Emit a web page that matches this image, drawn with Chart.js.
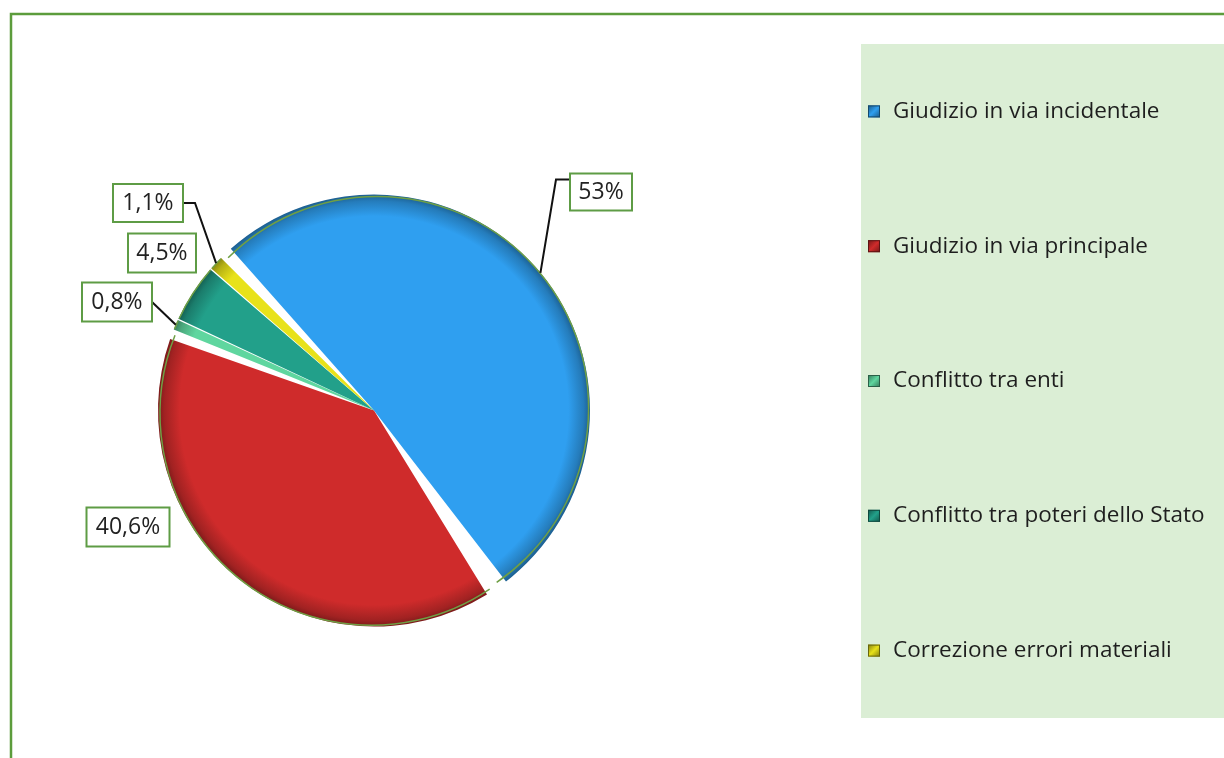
<!DOCTYPE html>
<html>
<head>
<meta charset="utf-8">
<script src="https://cdn.jsdelivr.net/npm/chart.js@4.4.1/dist/chart.umd.min.js"></script>
<style>
  html, body { margin: 0; padding: 0; background: #ffffff; }
  #wrap { position: relative; width: 1224px; height: 758px; }
</style>
</head>
<body>
<div id="wrap"><canvas id="c" width="1224" height="758"></canvas></div>
<script>
// ---- data ----
const categories = [
  'Giudizio in via incidentale',
  'Giudizio in via principale',
  'Conflitto tra enti',
  'Conflitto tra poteri dello Stato',
  'Correzione errori materiali'
];
const values = [53, 40.6, 0.8, 4.5, 1.1];
const valueLabels = ['53%', '40,6%', '0,8%', '4,5%', '1,1%'];
const sliceColors = ['#2f9ff0', '#cf2b2b', '#5fd69f', '#22a08a', '#e8e21a'];

// ---- styling / layout for annotations (not data) ----
const FONT = '"Open Sans", "Noto Sans", sans-serif';
const frameColor = '#5c9c3c';
const labelBoxes = [
  { cx: 601, cy: 192, w: 62, h: 37, leader: 'elbowLeft' },
  { cx: 128, cy: 527, w: 83, h: 39, leader: 'none' },
  { cx: 117, cy: 302, w: 70, h: 39, leader: 'straightRight' },
  { cx: 162, cy: 253, w: 68, h: 39, leader: 'none' },
  { cx: 148, cy: 203, w: 70, h: 38, leader: 'elbowRight' }
];

function shade(hex, f) {
  const n = parseInt(hex.slice(1), 16);
  let r = (n >> 16) & 255, g = (n >> 8) & 255, b = n & 255;
  r = Math.round(r * f); g = Math.round(g * f); b = Math.round(b * f);
  return `rgb(${Math.min(255,r)},${Math.min(255,g)},${Math.min(255,b)})`;
}

const framePlugin = {
  id: 'frame',
  beforeDraw(chart) {
    const ctx = chart.ctx;
    ctx.save();
    ctx.fillStyle = '#ffffff';
    ctx.fillRect(0, 0, chart.width, chart.height);
    ctx.strokeStyle = frameColor;
    ctx.lineWidth = 2.5;
    ctx.beginPath();
    ctx.moveTo(11, chart.height + 2);
    ctx.lineTo(11, 14);
    ctx.lineTo(chart.width + 2, 14);
    ctx.stroke();
    // legend panel
    ctx.fillStyle = '#dbeed5';
    ctx.fillRect(861, 44, chart.width - 861 + 2, 674);
    ctx.restore();
  }
};

const legendPlugin = {
  id: 'customLegend',
  afterDraw(chart) {
    const ctx = chart.ctx;
    const top = 44, h = 674;
    const n = chart.data.labels.length;
    const slot = h / n;
    ctx.save();
    chart.data.labels.forEach((lab, i) => {
      const y = top + slot * (i + 0.5);
      const col = sliceColors[i];
      const g = ctx.createLinearGradient(868, y - 6, 880, y + 6);
      g.addColorStop(0, shade(col, 0.55));
      g.addColorStop(0.5, col);
      g.addColorStop(1, shade(col, 0.55));
      ctx.fillStyle = g;
      ctx.fillRect(868, y - 6, 12, 12);
      ctx.strokeStyle = shade(col, 0.45);
      ctx.lineWidth = 1;
      ctx.strokeRect(868.5, y - 5.5, 11, 11);
      ctx.fillStyle = '#1e1e1e';
      ctx.font = '22.5px ' + FONT;
      ctx.textBaseline = 'middle';
      ctx.textAlign = 'left';
      ctx.fillText(lab, 893, y);
    });
    ctx.restore();
  }
};

const outlinePlugin = {
  id: 'outline',
  afterDatasetsDraw(chart) {
    const ctx = chart.ctx;
    const meta = chart.getDatasetMeta(0);
    ctx.save();
    ctx.strokeStyle = '#6f9f45';
    ctx.lineWidth = 1.5;
    meta.data.forEach(arc => {
      const p = arc.getProps(['x', 'y', 'startAngle', 'endAngle', 'outerRadius']);
      const mid = (p.startAngle + p.endAngle) / 2;
      const sp = 4;
      const cx = p.x + Math.cos(mid) * sp, cy = p.y + Math.sin(mid) * sp;
      ctx.beginPath();
      ctx.arc(cx, cy, p.outerRadius - 0.5, p.startAngle + 0.004, p.endAngle - 0.004);
      ctx.stroke();
    });
    ctx.restore();
  }
};

const labelPlugin = {
  id: 'valueLabels',
  afterDraw(chart) {
    const ctx = chart.ctx;
    const meta = chart.getDatasetMeta(0);
    ctx.save();
    meta.data.forEach((arc, i) => {
      const b = labelBoxes[i];
      const p = arc.getProps(['x', 'y', 'startAngle', 'endAngle', 'outerRadius']);
      const mid = (p.startAngle + p.endAngle) / 2;
      const ax = p.x + Math.cos(mid) * (p.outerRadius + 4);
      const ay = p.y + Math.sin(mid) * (p.outerRadius + 4);
      const left = b.cx - b.w / 2, right = b.cx + b.w / 2, top = b.cy - b.h / 2;
      ctx.strokeStyle = '#111';
      ctx.lineWidth = 2;
      ctx.beginPath();
      if (b.leader === 'elbowLeft') {
        ctx.moveTo(ax, ay);
        ctx.lineTo(left - 14, top + 6);
        ctx.lineTo(left, top + 6);
        ctx.stroke();
      } else if (b.leader === 'elbowRight') {
        ctx.moveTo(right, b.cy);
        ctx.lineTo(right + 12, b.cy);
        ctx.lineTo(ax, ay);
        ctx.stroke();
      } else if (b.leader === 'straightRight') {
        ctx.moveTo(right, b.cy);
        ctx.lineTo(ax, ay);
        ctx.stroke();
      }
      ctx.fillStyle = '#ffffff';
      ctx.fillRect(left, top, b.w, b.h);
      ctx.strokeStyle = '#5e9c45';
      ctx.lineWidth = 2;
      ctx.strokeRect(left, top, b.w, b.h);
      ctx.fillStyle = '#222';
      ctx.font = '23px ' + FONT;
      ctx.textAlign = 'center';
      ctx.textBaseline = 'middle';
      ctx.fillText(valueLabels[i], b.cx, b.cy);
    });
    ctx.restore();
  }
};

function sliceFill(context) {
  const i = context.dataIndex;
  const base = sliceColors[i];
  const chart = context.chart;
  const ca = chart.chartArea;
  if (!ca) return base;
  const cx = (ca.left + ca.right) / 2, cy = (ca.top + ca.bottom) / 2;
  const r = Math.min(ca.right - ca.left, ca.bottom - ca.top) / 2;
  const g = chart.ctx.createRadialGradient(cx, cy, 0, cx, cy, r);
  g.addColorStop(0, base);
  g.addColorStop(0.9, base);
  g.addColorStop(0.97, shade(base, 0.78));
  g.addColorStop(1, shade(base, 0.6));
  return g;
}

new Chart(document.getElementById('c'), {
  type: 'pie',
  data: {
    labels: categories,
    datasets: [{
      data: values,
      backgroundColor: sliceFill,
      borderWidth: 0,
      spacing: 8
    }]
  },
  plugins: [framePlugin, outlinePlugin, labelPlugin, legendPlugin],
  options: {
    responsive: false,
    animation: false,
    rotation: -45,
    layout: { padding: { left: 158, top: 194, right: 634, bottom: 131 } },
    plugins: {
      legend: { display: false },
      tooltip: { enabled: false }
    }
  }
});
</script>
</body>
</html>
